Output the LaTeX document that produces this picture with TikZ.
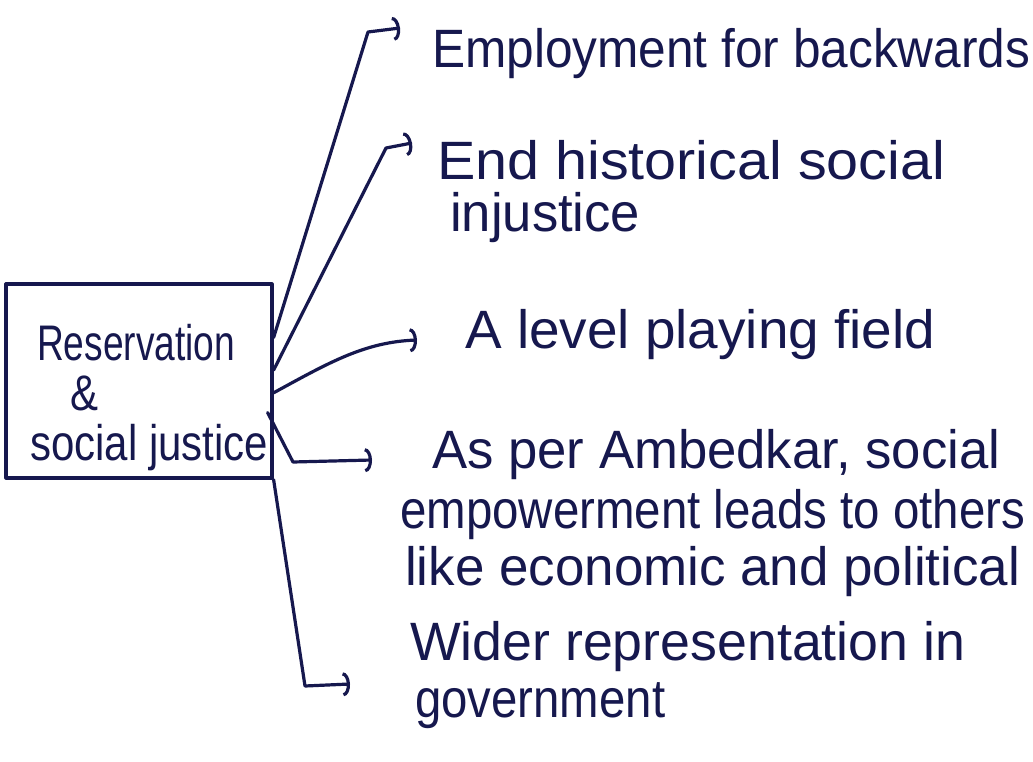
\documentclass[tikz,border=0pt]{standalone}
\usepackage{fontspec}
\setmainfont{Liberation Sans}
\usetikzlibrary{arrows.meta,calc}
\definecolor{ink}{RGB}{22,24,78}
\newcommand{\fitto}[2]{\resizebox{#1pt}{\height}{#2}}
\begin{document}
\begin{tikzpicture}[x=1pt,y=-1pt,
  inkline/.style={draw=ink,line width=3.2pt,line cap=round,line join=round},
  conn/.style={inkline,-{Arc Barb[length=7pt,width=24pt]}},
  lbl/.style={anchor=base west,inner sep=0pt,text=ink,font=\fontsize{54}{60}\selectfont},
  boxlbl/.style={lbl,font=\fontsize{50}{54}\selectfont}]
\fill[white] (0,0) rectangle (1033,762);
\useasboundingbox (0,0) rectangle (1033,762);
% central box
\node[inkline,rectangle,minimum width=266pt,minimum height=194pt,inner sep=0pt] (box) at (139,381) {};
\node[boxlbl] (t1) at (37,360) {\fitto{198}{Reservation}};
\node[boxlbl] (t2) at (70,410) {\fitto{28}{\&}};
\node[boxlbl] (t3) at (30,460) {\fitto{238}{social justice}};
% labels
\node[lbl] (emp) at (432,68) {\fitto{598}{Employment for backwards}};
\node[lbl] (endA) at (437,180) {\fitto{508}{End historical social}};
\node[lbl] (endB) at (450,232) {\fitto{190}{injustice}};
\node[lbl] (lvl) at (465,348) {\fitto{470}{A level playing field}};
\node[lbl] (ambA) at (432,468) {\fitto{568}{As per Ambedkar, social}};
\node[lbl] (ambB) at (400,528) {\fitto{625}{empowerment leads to others}};
\node[lbl] (ambC) at (405,585) {\fitto{615}{like economic and political}};
\node[lbl] (widA) at (410,660) {\fitto{555}{Wider representation in}};
\node[lbl] (widB) at (415,717) {\fitto{250}{government}};
% start points on the box edge
\coordinate (s1) at ($(box.north east)!0.28!(box.south east)$);
\coordinate (s2) at ($(box.north east)!0.445!(box.south east)$);
\coordinate (s3) at ($(box.north east)!0.56!(box.south east)$);
\coordinate (s4) at ($(box.north east)!0.66!(box.south east)+(-6,0)$);
% bends and tips
\coordinate (b1) at (368,32);
\coordinate (e1) at (400,28);
\coordinate (b2) at (386,148);
\coordinate (e2) at (412,143);
\coordinate (e3) at (417,340);
\coordinate (b4) at (293,462);
\coordinate (e4) at (372,460);
\coordinate (b5) at (305,686);
\coordinate (e5) at (350,684);
% connectors
\draw[conn] (s1) -- (b1) -- (e1);
\draw[conn] (s2) -- (b2) -- (e2);
\draw[conn] (s3) .. controls (330,362) and (365,342) .. (e3);
\draw[conn] (s4) -- (b4) -- (e4);
\draw[conn] (box.south east) -- (b5) -- (e5);
\end{tikzpicture}
\end{document}
